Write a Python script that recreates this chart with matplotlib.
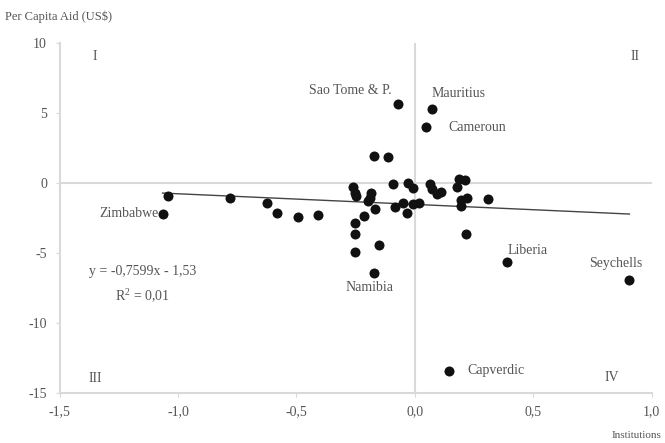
import matplotlib
matplotlib.use('Agg')
from matplotlib import pyplot as plt
import numpy as np

# institutions index (x) vs per capita aid change (y)
institutions = [-0.069, 0.072, 0.048, -0.171, -0.112, -0.094, -0.027, -0.006, 0.065, 0.072,
                0.094, 0.112, 0.186, 0.211, 0.179, 0.221, 0.197, 0.193, 0.311, 0.214,
                -0.779, -0.626, -0.58, -0.495, -0.41, -0.261, -0.254, -0.247, -0.183, -0.19,
                -0.197, -0.169, -0.214, -0.251, -0.251, -0.251, -0.150, -0.084, -0.048, -0.034,
                -0.006, 0.016, -1.041, -1.065, 0.391, 0.906, 0.143, -0.174]
aid = [5.66, 5.26, 4.02, 1.93, 1.86, -0.09, 0.02, -0.33, -0.05, -0.45,
       -0.81, -0.64, 0.26, 0.19, -0.29, -1.05, -1.24, -1.64, -1.12, -3.67,
       -1.05, -1.4, -2.17, -2.43, -2.31, -0.29, -0.69, -0.93, -0.69, -1.05,
       -1.29, -1.88, -2.36, -2.83, -3.67, -4.93, -4.43, -1.69, -1.40, -2.12,
       -1.52, -1.40, -0.93, -2.24, -5.62, -6.95, -13.43, -6.4]

slope, intercept = -0.7599, -1.53

# (name, x, y, ha, va) for labelled countries
labels = [("Sao Tome & P.", -0.10, 6.6, "right", "center"),
          ("Mauritius", 0.07, 6.4, "left", "center"),
          ("Cameroun", 0.14, 3.95, "left", "center"),
          ("Zimbabwe", -1.08, -2.2, "right", "center"),
          ("Namibia", -0.19, -7.45, "center", "center"),
          ("Liberia", 0.39, -4.85, "left", "center"),
          ("Seychells", 0.96, -5.75, "right", "center"),
          ("Capverdic", 0.22, -13.4, "left", "center")]
quadrants = [("I", -1.35, 9.0), ("II", 0.93, 9.0), ("III", -1.35, -14.0), ("IV", 0.83, -13.9)]

plt.rcParams['font.family'] = ['Liberation Serif', 'DejaVu Serif']
plt.rcParams['mathtext.fontset'] = 'custom'
plt.rcParams['mathtext.rm'] = 'Liberation Serif'
txtcol = '#555555'
gridcol = '#d9d9d9'

fig = plt.figure(figsize=(6.65, 4.43), dpi=100)
ax = fig.add_axes([0.0895, 0.1129, 0.8905, 0.7901])
ax.set_xlim(-1.5, 1.0)
ax.set_ylim(-15, 10)

ax.axhline(0, color=gridcol, lw=1.5, zorder=1)
ax.axvline(0, color=gridcol, lw=1.5, zorder=1)

ax.scatter(institutions, aid, s=52, color='#111111', zorder=3, linewidths=0)

xs = np.array([min(institutions), max(institutions)])
ax.plot(xs, slope * xs + intercept, color='#444444', lw=1, zorder=2)

for name, x, y, ha, va in labels:
    ax.text(x, y, name, ha=ha, va=va, fontsize=10, color=txtcol)
for q, x, y in quadrants:
    ax.text(x, y, q, ha='center', va='center', fontsize=10, color=txtcol)

ax.text(-1.15, -6.3, "y = -0,7599x - 1,53", ha='center', va='center', fontsize=10, color=txtcol)
ax.text(-1.15, -8.1, "R$^{2}$ = 0,01", ha='center', va='center', fontsize=10, color=txtcol)

for s in ['top', 'right']:
    ax.spines[s].set_visible(False)
for s in ['left', 'bottom']:
    ax.spines[s].set_color(gridcol)
    ax.spines[s].set_linewidth(1.5)

xt = [-1.5, -1.0, -0.5, 0.0, 0.5, 1.0]
yt = [-15, -10, -5, 0, 5, 10]
ax.set_xticks(xt)
ax.set_xticklabels([("%.1f" % v).replace('.', ',') for v in xt])
ax.set_yticks(yt)
ax.set_yticklabels([str(v) for v in yt])
ax.tick_params(colors=gridcol, labelcolor=txtcol, labelsize=10, length=3, pad=6)

fig.text(0.008, 0.962, "Per Capita Aid (US$)", fontsize=9, color=txtcol, ha='left', va='center')
fig.text(0.995, 0.018, "Institutions", fontsize=8, color=txtcol, ha='right', va='center')

fig.savefig('out.png', dpi=100)
